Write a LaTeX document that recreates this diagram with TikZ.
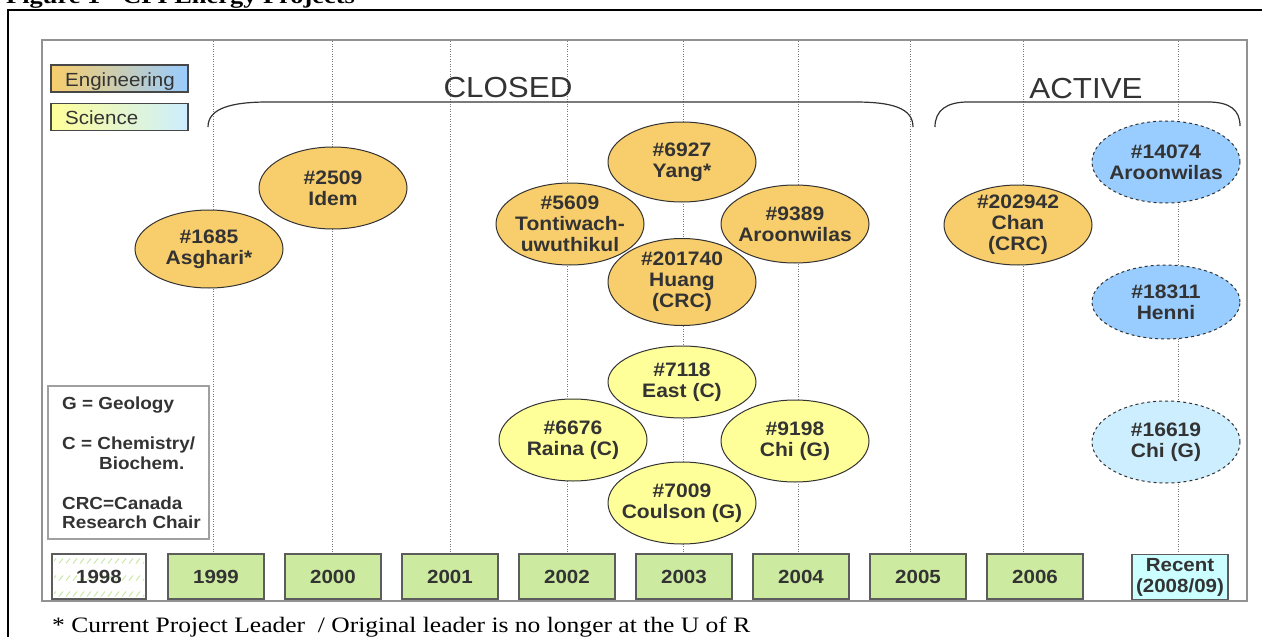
\documentclass[tikz,border=0pt]{standalone}
\usepackage{fontspec}
\setmainfont{Liberation Sans}[FakeStretch=1.08]
\newfontfamily\serifff{Liberation Serif}[FakeStretch=1.16]
\newfontfamily\seriftitle{Liberation Serif}[FakeStretch=1.2]
\usetikzlibrary{shapes.geometric}
\definecolor{txt}{HTML}{333333}
\definecolor{eng}{HTML}{F8CD6B}
\definecolor{engblue}{HTML}{99CCFF}
\definecolor{sci}{HTML}{FFFF99}
\definecolor{scilight}{HTML}{CCEEFF}
\definecolor{yr}{HTML}{CCEBA0}
\definecolor{recent}{HTML}{CCFFFF}
\definecolor{hatchc}{HTML}{C6E8A4}
\definecolor{grid}{HTML}{777777}
\begin{document}
\begin{tikzpicture}[x=1pt,y=-1pt,
  proj/.style={ellipse, draw=txt, line width=1pt, minimum width=148pt, minimum height=82pt,
    inner xsep=-30pt, inner ysep=-14pt, align=center, text=txt, font=\fontsize{19.5}{21}\selectfont\bfseries},
  engp/.style={proj, fill=eng},
  scip/.style={proj, fill=sci},
  actp/.style={proj, fill=engblue, dashed},
  actsci/.style={proj, fill=scilight, dashed},
  yearbox/.style={rectangle, draw=txt!80, line width=1.3pt, fill=yr, minimum width=96pt,
    minimum height=45pt, inner sep=0pt, align=center, text=txt, font=\fontsize{19}{21}\selectfont\bfseries},
  legbox/.style={rectangle, draw=txt!90, line width=1.3pt, minimum width=137pt, minimum height=27pt, inner sep=0pt},
  legtxt/.style={anchor=base west, inner sep=0pt, text=txt, font=\fontsize{19}{21}\selectfont},
  notetxt/.style={anchor=base west, inner sep=0pt, text=txt, font=\fontsize{17.5}{20}\selectfont\bfseries},
  gridline/.style={draw=grid, line width=0.8pt, dash pattern=on 1pt off 1.5pt},
  brace/.style={draw=txt, line width=1.2pt},
  bigtxt/.style={anchor=base, inner sep=0pt, text=txt, font=\fontsize{29}{32}\selectfont}
]
\useasboundingbox (0,0) rectangle (1262,637);
\clip (0,0) rectangle (1262,637);
\fill[white] (0,0) rectangle (1262,637);

% title (cut off at top)
\node[anchor=base west, inner sep=0pt, font=\seriftitle\bfseries\fontsize{22}{24}\selectfont] (title) at (6,3) {Figure 1 - CFI Energy Projects};

% outer frame
\draw[black, line width=2pt] (1300,10) -- (8,10) -- (8,660);
% inner box
\draw[draw=grid!80, line width=1.4pt] (42,40) rectangle (1247,601);

% grid lines
\foreach \gx in {213,332,450,567,683,798,910,1023,1178}
  \draw[gridline] (\gx,41) -- (\gx,554);

% braces
\draw[brace] (208,127) .. controls (208,108) and (232,102) .. (268,102) -- (855,102) .. controls (892,102) and (913,108) .. (913,127);
\draw[brace] (935,127) .. controls (935,110) and (947,102) .. (968,102) -- (1208,102) .. controls (1230,102) and (1240,110) .. (1240,126);
\node[bigtxt] (closed) at (508,97) {CLOSED};
\node[bigtxt] (active) at (1086,98) {ACTIVE};

% legend
\node[legbox, left color=eng, right color=engblue] (legeng) at (119.5,78.5) {};
\node[legtxt] (legengt) at (65,86) {Engineering};
\node[legbox, left color=sci, right color=scilight] (legsci) at (119.5,117) {};
\node[legtxt] (legscit) at (65,124.5) {Science};

% engineering closed
\node[engp, minimum height=78pt] (p1685) at (209,249) {\#1685\\Asghari*};
\node[engp] (p2509) at (333,188) {\#2509\\Idem};
\node[engp] (p5609) at (570,224) {\#5609\\Tontiwach-\\uwuthikul};
\node[engp, minimum height=80pt] (p6927) at (682,162) {\#6927\\Yang*};
\node[engp, minimum height=78pt] (p9389) at (795,224) {\#9389\\Aroonwilas};
\node[engp, minimum height=87pt] (p201740) at (682,282) {\#201740\\Huang\\(CRC)};
% science closed
\node[scip, minimum height=72pt] (p7118) at (682,382) {\#7118\\East (C)};
\node[scip] (p6676) at (573,440) {\#6676\\Raina (C)};
\node[scip] (p9198) at (795,441) {\#9198\\Chi (G)};
\node[scip] (p7009) at (682,503) {\#7009\\Coulson (G)};
% active
\node[engp, minimum height=80pt] (p202942) at (1018,225) {\#202942\\Chan\\(CRC)};
\node[actp] (p14074) at (1166,162) {\#14074\\Aroonwilas};
\node[actp, minimum height=74pt] (p18311) at (1166,302) {\#18311\\Henni};
\node[actsci] (p16619) at (1166,442) {\#16619\\Chi (G)};

% notes box
\draw[draw=grid!70, line width=1.2pt] (48,386) rectangle (209,539);
\node[notetxt] (ng) at (62,409) {G = Geology};
\node[notetxt] (nc) at (62,449) {C = Chemistry/};
\node[notetxt] (nb) at (99,469) {Biochem.};
\node[notetxt] (ncrc) at (62,509) {CRC=Canada};
\node[notetxt] (nrc) at (62,528) {Research Chair};

% year boxes
\begin{scope}
  \clip (54,556) rectangle (144,597);
  \foreach \r in {561,578,594}
    \foreach \i in {0,...,13}
      \draw[hatchc, line width=0.9pt] (52+\i*7,\r+2.5) -- (56+\i*7,\r-2.5);
\end{scope}
\node[yearbox, fill=none, minimum width=94pt] (y1998) at (99,576.5) {1998};
\node[yearbox] (y1999) at (216,576.5) {1999};
\node[yearbox] (y2000) at (333,576.5) {2000};
\node[yearbox] (y2001) at (450,576.5) {2001};
\node[yearbox] (y2002) at (567,576.5) {2002};
\node[yearbox] (y2003) at (684,576.5) {2003};
\node[yearbox] (y2004) at (801,576.5) {2004};
\node[yearbox] (y2005) at (918,576.5) {2005};
\node[yearbox] (y2006) at (1035,576.5) {2006};
\node[yearbox, fill=recent] (yrec) at (1180,577) {Recent\\(2008/09)};

% footer
\node[anchor=base west, inner sep=0pt, font=\serifff\fontsize{22}{24}\selectfont] (foot) at (52,632) {* Current Project Leader \ / Original leader is no longer at the U of R};
\end{tikzpicture}
\end{document}
